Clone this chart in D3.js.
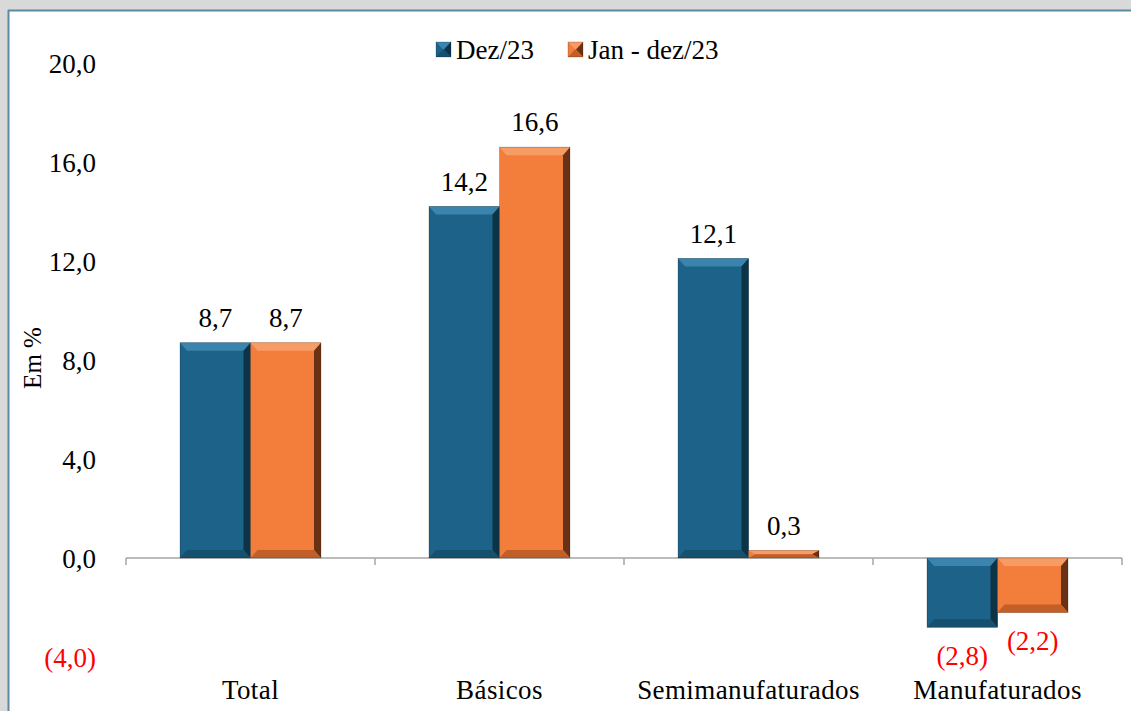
<!DOCTYPE html>
<html><head><meta charset="utf-8">
<script src="https://cdn.jsdelivr.net/npm/d3@7"></script>
<style>
html,body{margin:0;padding:0;background:#d9d9d9;}
svg{display:block;}
</style></head>
<body>
<svg id="chart" width="1131" height="711"></svg>
<script>
const categories = ["Total", "Básicos", "Semimanufaturados", "Manufaturados"];
const seriesNames = ["Dez/23", "Jan - dez/23"];
const dez23 = [8.7, 14.2, 12.1, -2.8];
const janDez23 = [8.7, 16.6, 0.3, -2.2];
const yTicks = [-4, 0, 4, 8, 12, 16, 20];
const yTitle = "Em %";

const colors = ["#1d6289", "#f37d3b"];
const light = ["#3a84ad", "#f89c66"];
const dark = ["#0d3347", "#6a3215"];
const darkB = ["#15506f", "#c25f29"];

const svg = d3.select("#chart");
const W = 1131, H = 711;
const FONT = "'Liberation Serif', 'Times New Roman', serif";
const FS = 27;

// frame
svg.append("rect").attr("x", 0).attr("y", 0).attr("width", W).attr("height", H).attr("fill", "#d9d9d9");
svg.append("rect").attr("x", 9).attr("y", 11).attr("width", W - 9).attr("height", H - 11).attr("fill", "#ffffff");
svg.append("line").attr("x1", 8.5).attr("x2", 8.5).attr("y1", 10).attr("y2", H).attr("stroke", "#5b8aa1").attr("stroke-width", 2);
svg.append("line").attr("x1", 8).attr("x2", W).attr("y1", 10.5).attr("y2", 10.5).attr("stroke", "#5b8aa1").attr("stroke-width", 2);

const x0 = d3.scaleBand().domain(categories).range([126, 1122]).paddingInner(0).paddingOuter(0);
const y = d3.scaleLinear().domain([-4, 20]).range([657, 63]);
const barW = 70.5;
const x1 = d3.scaleBand().domain(seriesNames).range([0, barW * 2]).padding(0);

const fmt = v => {
  const s = Math.abs(v).toFixed(1).replace(".", ",");
  return v < 0 ? "(" + s + ")" : s;
};
const yAxis = d3.axisLeft(y).tickValues(yTicks).tickSize(0).tickPadding(0).tickFormat(fmt);
const gy = svg.append("g").attr("transform", "translate(96,0)").call(yAxis);
gy.select(".domain").remove();
gy.selectAll("text").attr("font-family", FONT).attr("font-size", FS)
  .attr("fill", d => d < 0 ? "#ff0000" : "#000").attr("dy", "0.36em");

svg.append("text").attr("transform", "translate(41," + 358 + ") rotate(-90)")
  .attr("text-anchor", "middle").attr("font-family", FONT).attr("font-size", 25).attr("fill", "#000").text(yTitle);

// x-axis line and ticks
const gx = svg.append("g").attr("transform", "translate(0," + y(0) + ")");
gx.append("line").attr("x1", 126).attr("x2", 1122).attr("y1", 0).attr("y2", 0).attr("stroke", "#a6a6a6").attr("stroke-width", 1.5);
const boundaries = categories.map(c => x0(c)).concat([x0.range()[1]]);
gx.selectAll("line.tk").data(boundaries).join("line").attr("class", "tk")
  .attr("x1", d => d).attr("x2", d => d).attr("y1", 0).attr("y2", 7).attr("stroke", "#a6a6a6").attr("stroke-width", 1.5);

// category labels
svg.append("g").selectAll("text").data(categories).join("text")
  .attr("x", d => x0(d) + x0.bandwidth() / 2).attr("y", 699)
  .attr("text-anchor", "middle").attr("font-family", FONT).attr("font-size", FS).attr("fill", "#000")
  .attr("letter-spacing", 0.4)
  .text(d => d);

// bars
const data = [];
categories.forEach((c, i) => {
  [dez23, janDez23].forEach((arr, s) => data.push({ cat: c, s, v: arr[i] }));
});

function bevelBar(g, bx, by, bw, bh, s) {
  g.append("rect").attr("x", bx).attr("y", by).attr("width", bw).attr("height", bh).attr("fill", colors[s]);
  const bt = Math.min(8, bh / 2), bs = Math.min(7, bw / 2);
  const x2 = bx + bw, y2 = by + bh;
  g.append("polygon").attr("points", [[bx, by], [x2, by], [x2 - bs, by + bt], [bx + bs, by + bt]].join(" "))
    .attr("fill", light[s]);
  g.append("polygon").attr("points", [[x2, by], [x2, y2], [x2 - bs, y2 - bt], [x2 - bs, by + bt]].join(" "))
    .attr("fill", dark[s]);
  g.append("polygon").attr("points", [[bx, y2], [x2, y2], [x2 - bs, y2 - bt], [bx + bs, y2 - bt]].join(" "))
    .attr("fill", darkB[s]);
  g.append("rect").attr("x", bx).attr("y", by).attr("width", bw).attr("height", bh)
    .attr("fill", "none").attr("stroke", "rgba(0,0,0,0.25)").attr("stroke-width", 0.8);
}

const gb = svg.append("g");
data.forEach(d => {
  const bx = x0(d.cat) + (x0.bandwidth() - barW * 2) / 2 + x1(seriesNames[d.s]);
  const top = y(Math.max(0, d.v)), bot = y(Math.min(0, d.v));
  bevelBar(gb.append("g"), bx, top, x1.bandwidth(), bot - top, d.s);
  const cx = bx + x1.bandwidth() / 2;
  if (d.v >= 0) {
    gb.append("text").attr("x", cx).attr("y", top - 16).attr("text-anchor", "middle")
      .attr("font-family", FONT).attr("font-size", FS).attr("fill", "#000").text(fmt(d.v));
  } else {
    gb.append("text").attr("x", cx).attr("y", bot + 38).attr("text-anchor", "middle")
      .attr("font-family", FONT).attr("font-size", FS).attr("fill", "#ff0000").text(fmt(d.v));
  }
});

// legend
const leg = svg.append("g");
const legItems = [{ n: seriesNames[0], x: 436 }, { n: seriesNames[1], x: 568 }];
legItems.forEach((it, s) => {
  const g = leg.append("g");
  bevelBar(g, it.x, 42, 15, 15, s);
  g.append("text").attr("x", it.x + 20).attr("y", 59).attr("font-family", FONT).attr("font-size", FS)
    .attr("fill", "#000").text(it.n);
});
</script>
</body></html>
